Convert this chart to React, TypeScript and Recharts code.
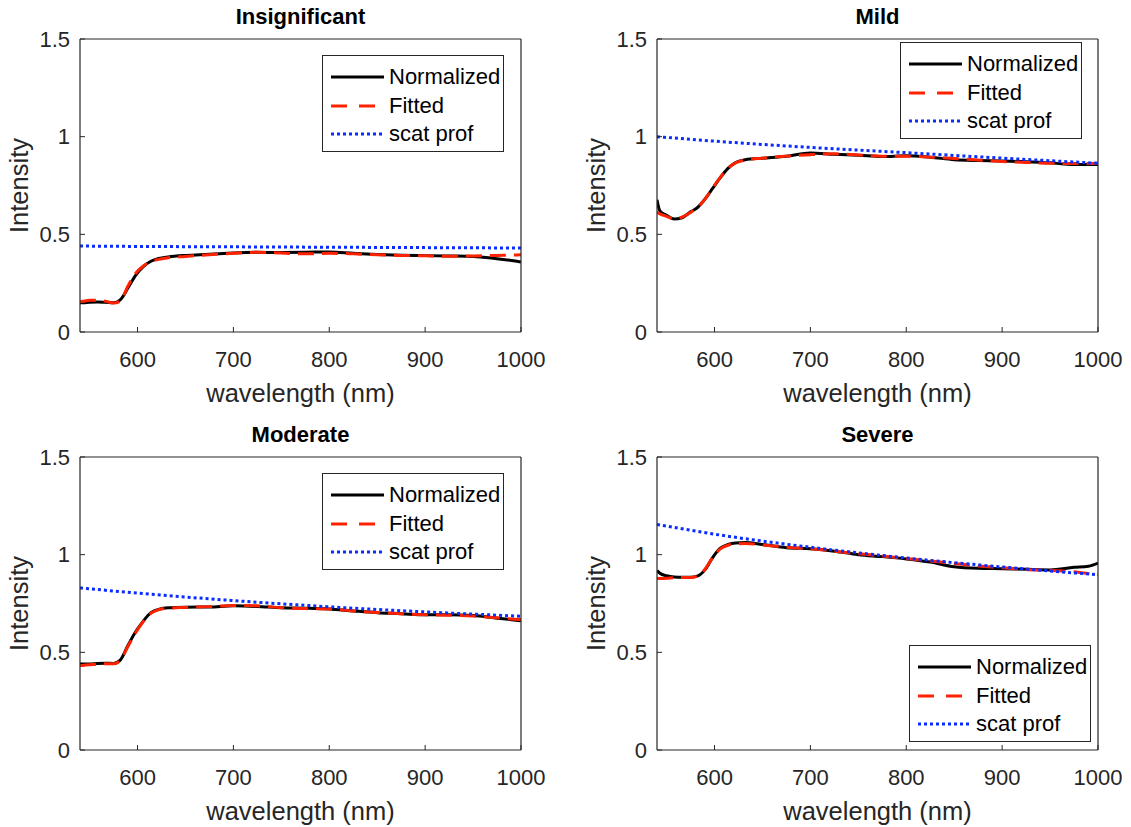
import { Legend, Line, LineChart, XAxis, YAxis } from "recharts";

// shared wavelength grid (nm) for the measured / fitted curves
const WAVELENGTHS = [540, 543, 550, 558, 566, 575, 582, 590, 598, 606, 614, 622, 632, 650, 675, 700, 725, 750, 775, 800, 825, 850, 875, 900, 925, 950, 975, 990, 1000];
// the scattering profile is a smooth curve, read at a coarser grid
const SCAT_WAVELENGTHS = [540, 600, 700, 800, 900, 1000];

const X_TICKS = [600, 700, 800, 900, 1000];
const Y_TICKS = [0, 0.5, 1, 1.5];

const insigNorm = [0.15, 0.15, 0.152, 0.153, 0.152, 0.15, 0.165, 0.225, 0.29, 0.335, 0.362, 0.376, 0.384, 0.392, 0.398, 0.405, 0.408, 0.407, 0.408, 0.41, 0.403, 0.397, 0.393, 0.391, 0.389, 0.387, 0.375, 0.366, 0.358];
const insigFit = [0.155, 0.157, 0.162, 0.163, 0.158, 0.148, 0.158, 0.235, 0.3, 0.338, 0.36, 0.372, 0.38, 0.387, 0.396, 0.403, 0.408, 0.404, 0.4, 0.403, 0.4, 0.395, 0.392, 0.39, 0.388, 0.389, 0.392, 0.394, 0.395];
const insigScat = [0.44, 0.438, 0.436, 0.434, 0.432, 0.43];

const mildNorm = [0.677, 0.62, 0.597, 0.578, 0.585, 0.615, 0.636, 0.68, 0.735, 0.79, 0.838, 0.868, 0.882, 0.89, 0.9, 0.917, 0.91, 0.905, 0.898, 0.902, 0.895, 0.882, 0.878, 0.876, 0.872, 0.866, 0.857, 0.858, 0.857];
const mildFit = [0.613, 0.605, 0.592, 0.578, 0.588, 0.612, 0.636, 0.68, 0.737, 0.792, 0.838, 0.866, 0.88, 0.89, 0.9, 0.908, 0.912, 0.906, 0.9, 0.9, 0.895, 0.888, 0.88, 0.873, 0.868, 0.864, 0.862, 0.862, 0.864];
const mildScat = [1.0, 0.977, 0.945, 0.918, 0.89, 0.864];

const modNorm = [0.441, 0.44, 0.44, 0.443, 0.444, 0.443, 0.46, 0.535, 0.605, 0.66, 0.703, 0.72, 0.728, 0.731, 0.732, 0.738, 0.735, 0.728, 0.726, 0.722, 0.712, 0.703, 0.698, 0.692, 0.693, 0.688, 0.675, 0.667, 0.662];
const modFit = [0.432, 0.433, 0.436, 0.44, 0.441, 0.441, 0.46, 0.53, 0.6, 0.658, 0.7, 0.718, 0.726, 0.73, 0.734, 0.74, 0.738, 0.728, 0.724, 0.722, 0.712, 0.704, 0.698, 0.692, 0.69, 0.686, 0.677, 0.671, 0.668];
const modScat = [0.83, 0.803, 0.765, 0.733, 0.707, 0.685];

const sevNorm = [0.919, 0.905, 0.892, 0.886, 0.885, 0.885, 0.89, 0.922, 0.985, 1.033, 1.052, 1.06, 1.062, 1.052, 1.036, 1.03, 1.018, 1.0, 0.99, 0.978, 0.962, 0.938, 0.93, 0.928, 0.925, 0.922, 0.935, 0.941, 0.957];
const sevFit = [0.88, 0.878, 0.879, 0.882, 0.883, 0.883, 0.89, 0.925, 0.985, 1.03, 1.048, 1.055, 1.057, 1.05, 1.038, 1.03, 1.018, 1.005, 0.993, 0.98, 0.968, 0.955, 0.942, 0.933, 0.924, 0.919, 0.912, 0.903, 0.897];
const sevScat = [1.155, 1.105, 1.038, 0.983, 0.937, 0.897];

const AXIS_COLOR = "#262626";
const FONT = '"Liberation Sans", Arial, Helvetica, sans-serif';
const CHART_W = 570;
const CHART_H = 410;

const toRows = (wl: number[], vals: number[]) => wl.map((w, i) => ({ w, v: vals[i] }));

function LegendBox() {
  const rows = [
    { name: "Normalized", stroke: "#000000", dash: undefined },
    { name: "Fitted", stroke: "#ff2200", dash: "16 12" },
    { name: "scat prof", stroke: "#0a2cff", dash: "3 3" },
  ];
  return (
    <div
      style={{
        boxSizing: "border-box",
        width: 182,
        height: 97,
        border: `1px solid ${AXIS_COLOR}`,
        background: "#fff",
        paddingTop: 7,
        fontFamily: FONT,
      }}
    >
      {rows.map((r) => (
        <div key={r.name} style={{ display: "flex", alignItems: "center", height: 28.5 }}>
          <svg width={66} height={10} style={{ flex: "none" }}>
            <line x1={8} x2={61} y1={5} y2={5} stroke={r.stroke} strokeWidth={3} strokeDasharray={r.dash} />
          </svg>
          <span style={{ fontSize: 22, color: "#000", lineHeight: "22px" }}>{r.name}</span>
        </div>
      ))}
    </div>
  );
}

interface PanelProps {
  title: string;
  left: number;
  top: number;
  norm: number[];
  fit: number[];
  scat: number[];
  legendLeft: number;
  legendTop: number;
}

function Panel({ title, left, top, norm, fit, scat, legendLeft, legendTop }: PanelProps) {
  const tickStyle = { fontSize: 22, fill: AXIS_COLOR };
  return (
    <div style={{ position: "absolute", left, top, width: CHART_W, height: CHART_H }}>
      <div
        style={{
          position: "absolute",
          left: 80,
          width: 441,
          top: 6,
          textAlign: "center",
          fontWeight: "bold",
          fontSize: 22,
          lineHeight: "22px",
          color: "#000",
          fontFamily: FONT,
        }}
      >
        {title}
      </div>
      <LineChart width={CHART_W} height={CHART_H} margin={{ top: 38, right: 48, left: 0, bottom: 0 }}>
        <XAxis
          dataKey="w"
          type="number"
          domain={[540, 1000]}
          ticks={X_TICKS}
          allowDataOverflow
          height={78}
          tick={tickStyle}
          tickSize={-5}
          tickMargin={24}
          stroke={AXIS_COLOR}
          axisLine={{ stroke: AXIS_COLOR, strokeWidth: 1.2 }}
          label={{ value: "wavelength (nm)", position: "insideBottom", offset: 8, fontSize: 25.5, fill: AXIS_COLOR }}
        />
        <XAxis
          xAxisId="top"
          orientation="top"
          dataKey="w"
          type="number"
          domain={[540, 1000]}
          ticks={X_TICKS}
          allowDataOverflow
          height={1}
          tick={false}
          tickSize={-5}
          stroke={AXIS_COLOR}
          axisLine={{ stroke: AXIS_COLOR, strokeWidth: 1.2 }}
        />
        <YAxis
          type="number"
          domain={[0, 1.5]}
          ticks={Y_TICKS}
          allowDataOverflow
          width={80}
          tick={tickStyle}
          tickSize={-5}
          tickMargin={15}
          stroke={AXIS_COLOR}
          axisLine={{ stroke: AXIS_COLOR, strokeWidth: 1.2 }}
          label={{
            value: "Intensity",
            angle: -90,
            position: "insideLeft",
            offset: 19,
            fontSize: 25.5,
            fill: AXIS_COLOR,
            style: { textAnchor: "middle" },
          }}
        />
        <YAxis
          yAxisId="r"
          orientation="right"
          type="number"
          domain={[0, 1.5]}
          ticks={Y_TICKS}
          allowDataOverflow
          width={1}
          tick={false}
          tickSize={-5}
          stroke={AXIS_COLOR}
          axisLine={{ stroke: AXIS_COLOR, strokeWidth: 1.2 }}
        />
        <Legend
          layout="vertical"
          align="center"
          verticalAlign="middle"
          content={() => <LegendBox />}
          wrapperStyle={{ left: legendLeft, top: legendTop, width: 182, height: 97 }}
        />
        <Line
          data={toRows(WAVELENGTHS, norm)}
          dataKey="v"
          name="Normalized"
          type="monotone"
          stroke="#000000"
          strokeWidth={3}
          dot={false}
          activeDot={false}
          isAnimationActive={false}
        />
        <Line
          data={toRows(WAVELENGTHS, fit)}
          dataKey="v"
          name="Fitted"
          type="monotone"
          stroke="#ff2200"
          strokeWidth={3}
          strokeDasharray="16 8"
          dot={false}
          activeDot={false}
          isAnimationActive={false}
        />
        <Line
          data={toRows(SCAT_WAVELENGTHS, scat)}
          dataKey="v"
          name="scat prof"
          type="monotone"
          stroke="#0a2cff"
          strokeWidth={3}
          strokeDasharray="3 3"
          dot={false}
          activeDot={false}
          isAnimationActive={false}
        />
      </LineChart>
    </div>
  );
}

export default function App() {
  return (
    <div style={{ position: "absolute", left: 0, top: 0, width: 1131, height: 827, background: "#fff", fontFamily: FONT }}>
      <Panel title="Insignificant" left={0} top={0} norm={insigNorm} fit={insigFit} scat={insigScat} legendLeft={322} legendTop={55} />
      <Panel title="Mild" left={577} top={0} norm={mildNorm} fit={mildFit} scat={mildScat} legendLeft={323} legendTop={42} />
      <Panel title="Moderate" left={0} top={418} norm={modNorm} fit={modFit} scat={modScat} legendLeft={322} legendTop={55} />
      <Panel title="Severe" left={577} top={418} norm={sevNorm} fit={sevFit} scat={sevScat} legendLeft={332} legendTop={227} />
    </div>
  );
}
